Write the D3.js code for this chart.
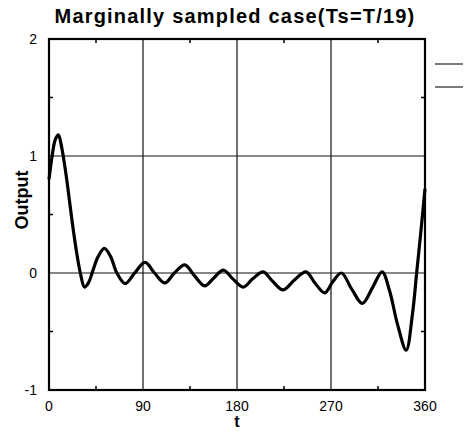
<!DOCTYPE html>
<html>
<head>
<meta charset="utf-8">
<script src="https://cdn.jsdelivr.net/npm/d3@7"></script>
<style>
  body { margin: 0; background: #fff; }
  text { font-family: "Liberation Sans", Arial, sans-serif; fill: #000; }
</style>
</head>
<body>
<div id="chart"></div>
<script>
// curve: t (degrees) and output
const tValues = [0, 3, 6, 9, 12, 15, 18, 22, 26, 30, 34, 38, 42, 47, 53, 59, 65, 73, 82, 92,
  101, 111, 120, 130, 139, 149, 158, 167, 176, 186, 195, 205, 214, 224, 235, 246, 255, 264,
  272, 280, 290, 300, 310, 319, 326, 334, 342, 348, 352, 356, 360];
const outValues = [0.80, 1.00, 1.14, 1.18, 1.08, 0.92, 0.73, 0.45, 0.20, 0.00, -0.12, -0.08, 0.02, 0.14, 0.21, 0.14, 0.00, -0.09, 0.00, 0.09,
  0.00, -0.085, 0.00, 0.07, -0.02, -0.11, -0.04, 0.025, -0.05, -0.12, -0.05, 0.01, -0.07, -0.145, -0.06, 0.01, -0.09, -0.17,
  -0.07, 0.00, -0.14, -0.26, -0.12, 0.01, -0.15, -0.45, -0.66, -0.35, 0.00, 0.35, 0.72];

const xTicks = [0, 90, 180, 270, 360];
const xMinor = [45, 135, 225, 315];
const yTicks = [2, 1, 0, -1];
const yMinor = [1.5, 0.5, -0.5];
const xGrid = [90, 180, 270];
const yGrid = [1, 0];

const width = 466, height = 431;
const margin = { top: 39, right: 41, bottom: 41, left: 49 };

const svg = d3.select('#chart')
  .append('svg')
  .attr('width', width)
  .attr('height', height);

const x = d3.scaleLinear()
  .domain([0, 360])
  .range([margin.left, width - margin.right]);

const y = d3.scaleLinear()
  .domain([-1, 2])
  .range([height - margin.bottom, margin.top]);

// grid
svg.append('g')
  .attr('stroke', '#111')
  .attr('stroke-width', 1.2)
  .call(g => g.selectAll('.vg').data(xGrid).join('line')
    .attr('x1', d => x(d)).attr('x2', d => x(d))
    .attr('y1', y(2)).attr('y2', y(-1)))
  .call(g => g.selectAll('.hg').data(yGrid).join('line')
    .attr('x1', x(0)).attr('x2', x(360))
    .attr('y1', d => y(d)).attr('y2', d => y(d)));

// minor ticks, inward on all four sides
const ticks = svg.append('g').attr('stroke', '#000').attr('stroke-width', 1.5);
xMinor.forEach(d => {
  ticks.append('line').attr('x1', x(d)).attr('x2', x(d)).attr('y1', y(-1)).attr('y2', y(-1) - 4);
  ticks.append('line').attr('x1', x(d)).attr('x2', x(d)).attr('y1', y(2)).attr('y2', y(2) + 4);
});
yMinor.forEach(d => {
  ticks.append('line').attr('x1', x(0)).attr('x2', x(0) + 4).attr('y1', y(d)).attr('y2', y(d));
  ticks.append('line').attr('x1', x(360)).attr('x2', x(360) - 4).attr('y1', y(d)).attr('y2', y(d));
});

// frame
svg.append('rect')
  .attr('x', x(0)).attr('y', y(2))
  .attr('width', x(360) - x(0)).attr('height', y(-1) - y(2))
  .attr('fill', 'none')
  .attr('stroke', '#000')
  .attr('stroke-width', 2.2);

// curve
const line = d3.line()
  .x((d, i) => x(tValues[i]))
  .y(d => y(d))
  .curve(d3.curveCatmullRom.alpha(0.5));

svg.append('path')
  .datum(outValues)
  .attr('fill', 'none')
  .attr('stroke', '#000')
  .attr('stroke-width', 3.2)
  .attr('stroke-linejoin', 'round')
  .attr('d', line);

// tick labels
svg.append('g')
  .selectAll('text')
  .data(xTicks)
  .join('text')
  .attr('x', d => x(d))
  .attr('y', 411)
  .attr('text-anchor', 'middle')
  .attr('font-size', 14)
  .text(d => d);

svg.append('g')
  .selectAll('text')
  .data(yTicks)
  .join('text')
  .attr('x', 37)
  .attr('y', d => y(d) + 5)
  .attr('text-anchor', 'end')
  .attr('font-size', 14)
  .text(d => d);

// titles
svg.append('text')
  .attr('x', 235)
  .attr('y', 23)
  .attr('text-anchor', 'middle')
  .attr('font-size', 20)
  .attr('letter-spacing', 1.2)
  .attr('font-weight', 'bold')
  .text('Marginally sampled case(Ts=T/19)');

svg.append('text')
  .attr('x', x(180))
  .attr('y', 427)
  .attr('text-anchor', 'middle')
  .attr('font-size', 16)
  .attr('font-weight', 'bold')
  .text('t');

svg.append('text')
  .attr('transform', 'translate(28,200) rotate(-90)')
  .attr('text-anchor', 'middle')
  .attr('font-size', 18)
  .attr('font-weight', 'bold')
  .text('Output');

// stray legend strokes at the right edge
svg.append('g')
  .attr('stroke', '#333')
  .attr('stroke-width', 1.3)
  .selectAll('line')
  .data([64, 87])
  .join('line')
  .attr('x1', 435).attr('x2', 463)
  .attr('y1', d => d).attr('y2', d => d);
</script>
</body>
</html>
